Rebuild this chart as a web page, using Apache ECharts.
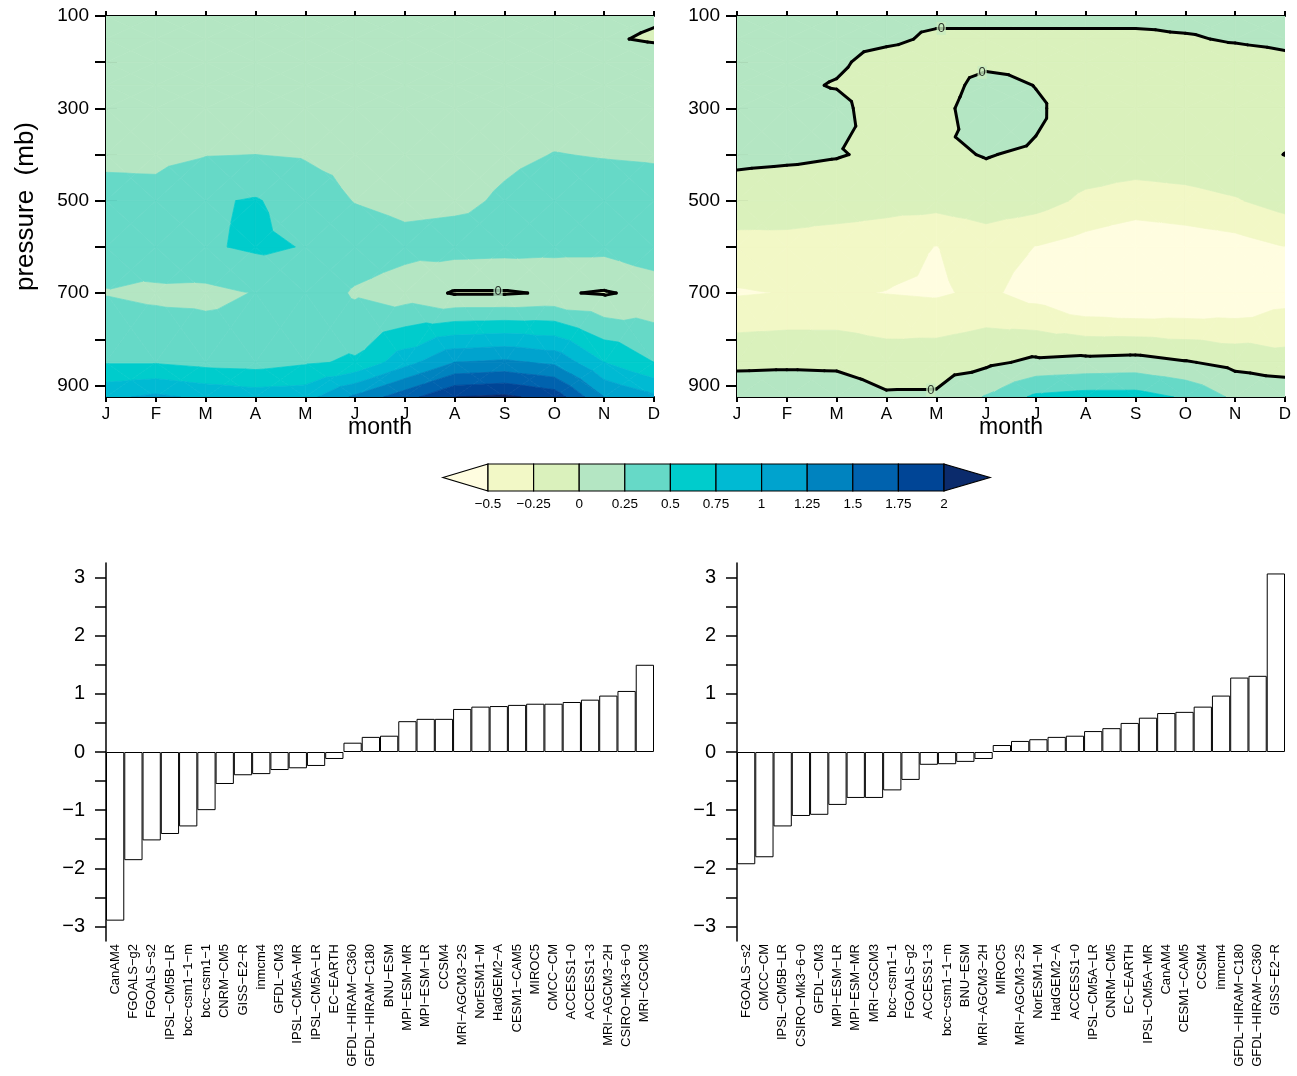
<!DOCTYPE html>
<html>
<head>
<meta charset="utf-8">
<script src="https://cdn.jsdelivr.net/npm/echarts@6/dist/echarts.min.js"></script>
<style>
  html, body { margin: 0; padding: 0; background: #fff; }
  #chart { width: 1297px; height: 1076px; }
</style>
</head>
<body>
<div id="chart"></div>
<script>
// month axis and pressure levels of the two cross sections
const months = ['J', 'F', 'M', 'A', 'M', 'J', 'J', 'A', 'S', 'O', 'N', 'D'];
const levels = [100, 150, 200, 250, 300, 400, 500, 600, 700, 850, 925];

// left panel, one row per level
const leftField = [
  [0.10, 0.10, 0.10, 0.10, 0.10, 0.10, 0.10, 0.10, 0.10, 0.10, 0.05, 0.02],
  [0.12, 0.12, 0.12, 0.12, 0.12, 0.12, 0.12, 0.12, 0.12, 0.10, 0.02, -0.02],
  [0.15, 0.15, 0.15, 0.15, 0.15, 0.15, 0.15, 0.15, 0.15, 0.14, 0.12, 0.11],
  [0.16, 0.16, 0.16, 0.16, 0.16, 0.16, 0.16, 0.16, 0.16, 0.16, 0.16, 0.16],
  [0.17, 0.17, 0.17, 0.15, 0.17, 0.16, 0.15, 0.15, 0.16, 0.17, 0.17, 0.17],
  [0.20, 0.19, 0.24, 0.25, 0.23, 0.18, 0.15, 0.15, 0.21, 0.255, 0.24, 0.23],
  [0.33, 0.33, 0.47, 0.52, 0.38, 0.24, 0.18, 0.20, 0.28, 0.35, 0.35, 0.33],
  [0.33, 0.42, 0.47, 0.54, 0.49, 0.40, 0.33, 0.35, 0.335, 0.32, 0.32, 0.45],
  [0.24, 0.20, 0.19, 0.26, 0.42, 0.22, 0.12, -0.02, -0.02, 0.023, -0.02, 0.063],
  [0.48, 0.48, 0.42, 0.40, 0.47, 0.53, 0.90, 1.25, 1.30, 1.20, 0.75, 0.50],
  [0.95, 1.05, 0.95, 0.88, 0.90, 1.30, 1.65, 2.00, 2.05, 1.90, 1.25, 1.05]
];

// right panel
const rightField = [
  [0.06, 0.06, 0.06, 0.06, 0.06, 0.06, 0.06, 0.06, 0.06, 0.06, 0.06, 0.06],
  [0.08, 0.08, 0.06, 0.06, -0.05, -0.05, -0.05, -0.05, -0.05, -0.02, 0.02, 0.05],
  [0.10, 0.10, 0.05, -0.12, -0.15, -0.10, -0.10, -0.10, -0.10, -0.10, -0.10, -0.05],
  [0.10, 0.06, -0.02, -0.15, -0.20, 0.15, -0.01, -0.12, -0.12, -0.12, -0.12, -0.10],
  [0.10, 0.10, 0.10, -0.20, -0.12, 0.20, 0.05, -0.18, -0.15, -0.12, -0.10, -0.05],
  [0.04, 0.03, 0.01, -0.03, -0.04, 0.01, -0.034, -0.10, -0.12, -0.10, -0.05, 0.002],
  [-0.08, -0.10, -0.10, -0.15, -0.16, -0.10, -0.15, -0.30, -0.36, -0.33, -0.27, -0.15],
  [-0.35, -0.34, -0.40, -0.42, -0.505, -0.40, -0.505, -0.60, -0.70, -0.65, -0.60, -0.50],
  [-0.52, -0.49, -0.48, -0.505, -0.53, -0.45, -0.60, -0.80, -0.85, -0.80, -0.75, -0.60],
  [-0.05, -0.04, -0.05, -0.12, -0.10, -0.05, 0.05, 0.08, 0.10, 0.02, -0.07, -0.15],
  [0.15, 0.15, 0.15, 0.03, 0.03, 0.27, 0.55, 0.60, 0.60, 0.47, 0.20, 0.20]
];

// where the "0" labels of the contour sit (month, pressure)
const leftZeroLabels = [[7.87, 696]];
const rightZeroLabels = [[4.1, 127], [4.92, 222], [3.89, 910]];

const contourLevels = [-0.5, -0.25, 0, 0.25, 0.5, 0.75, 1, 1.25, 1.5, 1.75, 2];
const levelLabels = ['\u22120.5', '\u22120.25', '0', '0.25', '0.5', '0.75', '1', '1.25', '1.5', '1.75', '2'];
const shadeColors = ['#fffde0', '#f2f8c6', '#daf1bc', '#b4e6c3', '#66d9c7', '#00cccc',
  '#00bad3', '#00a3ce', '#0083bf', '#0062ae', '#004596', '#0b2b6c'];

const leftModels = ['CanAM4', 'FGOALS-g2', 'FGOALS-s2', 'IPSL-CM5B-LR', 'bcc-csm1-1-m', 'bcc-csm1-1',
  'CNRM-CM5', 'GISS-E2-R', 'inmcm4', 'GFDL-CM3', 'IPSL-CM5A-MR', 'IPSL-CM5A-LR', 'EC-EARTH',
  'GFDL-HIRAM-C360', 'GFDL-HIRAM-C180', 'BNU-ESM', 'MPI-ESM-MR', 'MPI-ESM-LR', 'CCSM4',
  'MRI-AGCM3-2S', 'NorESM1-M', 'HadGEM2-A', 'CESM1-CAM5', 'MIROC5', 'CMCC-CM', 'ACCESS1-0',
  'ACCESS1-3', 'MRI-AGCM3-2H', 'CSIRO-Mk3-6-0', 'MRI-CGCM3'];
const leftValues = [-2.9, -1.86, -1.52, -1.41, -1.28, -1.0, -0.55, -0.4, -0.38, -0.31, -0.28, -0.24,
  -0.12, 0.16, 0.26, 0.28, 0.53, 0.57, 0.57, 0.74, 0.78, 0.79, 0.81, 0.83, 0.83, 0.86, 0.9, 0.97,
  1.05, 1.5];

const rightModels = ['FGOALS-s2', 'CMCC-CM', 'IPSL-CM5B-LR', 'CSIRO-Mk3-6-0', 'GFDL-CM3', 'MPI-ESM-LR',
  'MPI-ESM-MR', 'MRI-CGCM3', 'bcc-csm1-1', 'FGOALS-g2', 'ACCESS1-3', 'bcc-csm1-1-m', 'BNU-ESM',
  'MRI-AGCM3-2H', 'MIROC5', 'MRI-AGCM3-2S', 'NorESM1-M', 'HadGEM2-A', 'ACCESS1-0', 'IPSL-CM5A-LR',
  'CNRM-CM5', 'EC-EARTH', 'IPSL-CM5A-MR', 'CanAM4', 'CESM1-CAM5', 'CCSM4', 'inmcm4',
  'GFDL-HIRAM-C180', 'GFDL-HIRAM-C360', 'GISS-E2-R'];
const rightValues = [-1.93, -1.81, -1.28, -1.1, -1.08, -0.91, -0.79, -0.79, -0.66, -0.48, -0.22,
  -0.21, -0.17, -0.12, 0.12, 0.19, 0.22, 0.26, 0.28, 0.36, 0.41, 0.5, 0.59, 0.67, 0.69, 0.78,
  0.97, 1.28, 1.31, 3.07];

const barTicks = [-3, -2.5, -2, -1.5, -1, -0.5, 0, 0.5, 1, 1.5, 2, 2.5, 3];
const barLabels = [-3, -2, -1, 0, 1, 2, 3];

const FONT = 'Liberation Sans';
const minus = (s) => String(s).replace(/-/g, '\u2212');

// ---- filled contours on a triangulated grid ----
const cellData = [];
for (let j = 0; j < levels.length - 1; j++) {
  for (let i = 0; i < months.length - 1; i++) cellData.push([i, levels[j]]);
}

function clipPoly(poly, t, above) {
  const out = [];
  for (let k = 0; k < poly.length; k++) {
    const a = poly[k], b = poly[(k + 1) % poly.length];
    const ina = above ? a.v >= t : a.v <= t;
    const inb = above ? b.v >= t : b.v <= t;
    if (ina) out.push(a);
    if (ina !== inb) {
      const f = (t - a.v) / (b.v - a.v);
      out.push({ x: a.x + f * (b.x - a.x), y: a.y + f * (b.y - a.y), v: t });
    }
  }
  return out;
}

function cellTriangles(field, params, api) {
  const idx = params.dataIndex;
  const nc = months.length - 1;
  const i = idx % nc, j = Math.floor(idx / nc);
  const corner = (ii, jj) => {
    const p = api.coord([ii, levels[jj]]);
    return { x: p[0], y: p[1], v: field[jj][ii] };
  };
  const A = corner(i, j), B = corner(i + 1, j), C = corner(i + 1, j + 1), D = corner(i, j + 1);
  const cp = api.coord([i + 0.5, (levels[j] + levels[j + 1]) / 2]);
  const M = { x: cp[0], y: cp[1], v: (A.v + B.v + C.v + D.v) / 4 };
  return [[A, B, M], [B, C, M], [C, D, M], [D, A, M]];
}

function fillRenderer(field) {
  return function (params, api) {
    const children = [];
    cellTriangles(field, params, api).forEach((tri) => {
      for (let k = 0; k < shadeColors.length; k++) {
        let poly = tri;
        if (k > 0) poly = clipPoly(poly, contourLevels[k - 1], true);
        if (poly.length >= 3 && k < contourLevels.length) poly = clipPoly(poly, contourLevels[k], false);
        if (poly.length < 3) continue;
        children.push({
          type: 'polygon',
          shape: { points: poly.map((p) => [p.x, p.y]) },
          style: { fill: shadeColors[k], stroke: shadeColors[k], lineWidth: 0.7 },
          silent: true
        });
      }
    });
    return { type: 'group', children: children };
  };
}

function zeroLineRenderer(field) {
  return function (params, api) {
    const children = [];
    cellTriangles(field, params, api).forEach((tri) => {
      const pts = [];
      for (let k = 0; k < 3; k++) {
        const a = tri[k], b = tri[(k + 1) % 3];
        if ((a.v < 0) !== (b.v < 0)) {
          const f = (0 - a.v) / (b.v - a.v);
          pts.push([a.x + f * (b.x - a.x), a.y + f * (b.y - a.y)]);
        }
      }
      if (pts.length === 2) {
        children.push({
          type: 'line',
          shape: { x1: pts[0][0], y1: pts[0][1], x2: pts[1][0], y2: pts[1][1] },
          style: { stroke: '#000', lineWidth: 3, lineCap: 'round' },
          silent: true
        });
      }
    });
    return { type: 'group', children: children };
  };
}

// ---- axes ----
const axisBlack = { lineStyle: { color: '#000', width: 2 } };

function monthAxis(gridIndex, top) {
  return {
    type: 'value', gridIndex: gridIndex, position: top ? 'top' : 'bottom',
    min: 0, max: 11, interval: 1,
    name: top ? '' : 'month', nameLocation: 'middle', nameGap: 19, nameMoveOverlap: false,
    nameTextStyle: { fontFamily: FONT, fontSize: 23, color: '#000' },
    axisLine: axisBlack,
    axisTick: { show: true, inside: false, length: 5, lineStyle: { color: '#000', width: 2 } },
    axisLabel: {
      show: !top, margin: 9, fontFamily: FONT, fontSize: 17, color: '#000',
      formatter: (v) => months[Math.round(v)]
    },
    splitLine: { show: false }
  };
}

function pressureAxis(gridIndex, right, withName) {
  return {
    type: 'value', gridIndex: gridIndex, position: right ? 'right' : 'left',
    inverse: true, min: 100, max: 925,
    name: withName ? 'pressure  (mb)' : '', nameLocation: 'middle', nameGap: 67, nameRotate: 90,
    nameTextStyle: { fontFamily: FONT, fontSize: 26, color: '#000' },
    axisLine: axisBlack,
    axisTick: {
      show: true, inside: false, length: 11,
      customValues: [100, 200, 300, 400, 500, 600, 700, 800, 900],
      lineStyle: { color: '#000', width: 2 }
    },
    axisLabel: {
      show: !right, margin: 17, fontFamily: FONT, fontSize: 19, color: '#000',
      customValues: [100, 300, 500, 700, 900]
    },
    splitLine: { show: false }
  };
}

function modelAxis(gridIndex, models) {
  return {
    type: 'category', gridIndex: gridIndex, data: models, position: 'bottom',
    axisLine: { show: false }, axisTick: { show: false },
    axisLabel: {
      interval: 0, rotate: 90, margin: 3, fontFamily: FONT, fontSize: 13, color: '#000',
      formatter: (v) => minus(v)
    }
  };
}

function barValueAxis(gridIndex) {
  return {
    type: 'value', gridIndex: gridIndex, min: -3.25, max: 3.25,
    axisLine: { show: true, lineStyle: { color: '#000', width: 1.5 } },
    axisTick: {
      show: true, inside: false, length: 11, customValues: barTicks,
      lineStyle: { color: '#000', width: 1.5 }
    },
    axisLabel: {
      margin: 21, fontFamily: FONT, fontSize: 20, color: '#000', customValues: barLabels,
      formatter: (v) => minus(v)
    },
    splitLine: { show: false }
  };
}

function zeroLabels(xi, yi, pts, bg) {
  return {
    type: 'scatter', xAxisIndex: xi, yAxisIndex: yi, data: pts, symbolSize: 1, z: 5,
    itemStyle: { color: 'rgba(0,0,0,0)' }, silent: true,
    label: {
      show: true, position: 'inside', formatter: '0', fontFamily: FONT, fontSize: 13,
      color: '#000', backgroundColor: bg, padding: [0, 1]
    }
  };
}

function bars(xi, yi, values) {
  return {
    type: 'bar', xAxisIndex: xi, yAxisIndex: yi, data: values,
    barCategoryGap: 0, silent: true,
    itemStyle: { color: '#fff', borderColor: '#000', borderWidth: 1 }
  };
}

// ---- colour bar (legend) ----
const cbLeft = 488, cbRight = 944, cbTop = 464, cbH = 27;
const cbStep = (cbRight - cbLeft) / (contourLevels.length - 1);
const cbGraphics = [];
cbGraphics.push({
  type: 'polygon', shape: { points: [[443, cbTop + cbH / 2], [cbLeft, cbTop], [cbLeft, cbTop + cbH]] },
  style: { fill: shadeColors[0], stroke: '#000', lineWidth: 1.2 }
});
for (let k = 0; k < contourLevels.length - 1; k++) {
  cbGraphics.push({
    type: 'rect', shape: { x: cbLeft + k * cbStep, y: cbTop, width: cbStep, height: cbH },
    style: { fill: shadeColors[k + 1], stroke: '#000', lineWidth: 1.2 }
  });
}
cbGraphics.push({
  type: 'polygon', shape: { points: [[cbRight, cbTop], [990, cbTop + cbH / 2], [cbRight, cbTop + cbH]] },
  style: { fill: shadeColors[shadeColors.length - 1], stroke: '#000', lineWidth: 1.2 }
});
levelLabels.forEach((t, k) => {
  cbGraphics.push({
    type: 'text', x: cbLeft + k * cbStep, y: 497,
    style: { text: t, fill: '#000', font: '13.5px "Liberation Sans"', align: 'center', verticalAlign: 'top' }
  });
});

const option = {
  backgroundColor: '#fff',
  animation: false,
  grid: [
    { left: 106, top: 16, width: 548, height: 381 },
    { left: 737, top: 16, width: 548, height: 381 },
    { left: 106, top: 563, width: 548, height: 378 },
    { left: 737, top: 563, width: 548, height: 378 }
  ],
  xAxis: [
    monthAxis(0, false), monthAxis(0, true),
    monthAxis(1, false), monthAxis(1, true),
    modelAxis(2, leftModels), modelAxis(3, rightModels)
  ],
  yAxis: [
    pressureAxis(0, false, true), pressureAxis(0, true, false),
    pressureAxis(1, false, false), pressureAxis(1, true, false),
    barValueAxis(2), barValueAxis(3)
  ],
  graphic: cbGraphics,
  series: [
    { type: 'custom', xAxisIndex: 0, yAxisIndex: 0, data: cellData, clip: true, z: 1,
      renderItem: fillRenderer(leftField), encode: { x: 0, y: 1 } },
    { type: 'custom', xAxisIndex: 0, yAxisIndex: 0, data: cellData, clip: true, z: 3,
      renderItem: zeroLineRenderer(leftField), encode: { x: 0, y: 1 } },
    zeroLabels(0, 0, leftZeroLabels, '#b4e6c3'),
    { type: 'custom', xAxisIndex: 2, yAxisIndex: 2, data: cellData, clip: true, z: 1,
      renderItem: fillRenderer(rightField), encode: { x: 0, y: 1 } },
    { type: 'custom', xAxisIndex: 2, yAxisIndex: 2, data: cellData, clip: true, z: 3,
      renderItem: zeroLineRenderer(rightField), encode: { x: 0, y: 1 } },
    zeroLabels(2, 2, rightZeroLabels, '#c8ecbf'),
    bars(4, 4, leftValues),
    bars(5, 5, rightValues)
  ]
};

const myChart = echarts.init(document.getElementById('chart'));
myChart.setOption(option);
</script>
</body>
</html>
